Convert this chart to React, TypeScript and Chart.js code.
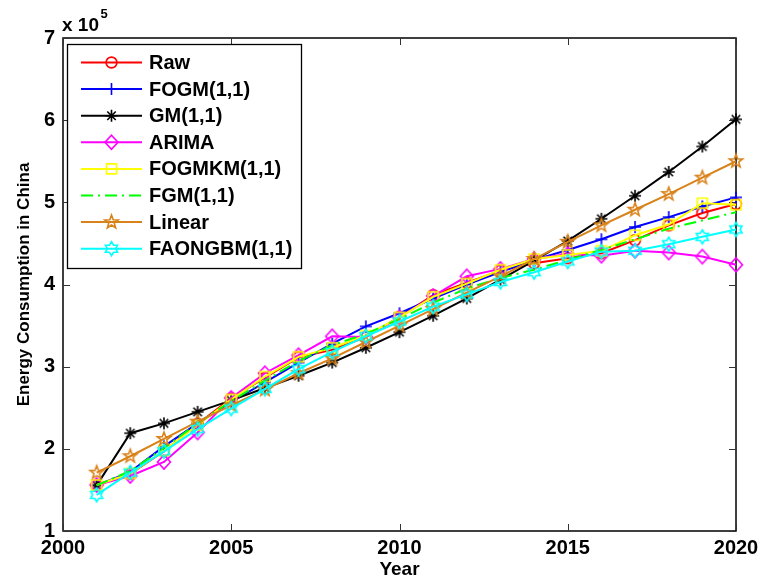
import React, { useEffect, useRef } from 'react';
import { Chart, registerables } from 'chart.js';

Chart.register(...registerables);

// ---- data (values in units of 10^5) ----
const years = [2001, 2002, 2003, 2004, 2005, 2006, 2007, 2008, 2009, 2010, 2011, 2012, 2013, 2014, 2015, 2016, 2017, 2018, 2019, 2020];
const rawValues = [1.555, 1.696, 1.971, 2.303, 2.614, 2.865, 3.114, 3.206, 3.361, 3.606, 3.870, 4.021, 4.169, 4.258, 4.32, 4.38, 4.54, 4.72, 4.87, 4.98];
const fogmValues = [1.555, 1.72, 2.03, 2.31, 2.57, 2.81, 3.05, 3.28, 3.49, 3.65, 3.83, 4.00, 4.15, 4.30, 4.42, 4.55, 4.70, 4.82, 4.95, 5.06];
const gmValues = [1.555, 2.19, 2.31, 2.45, 2.59, 2.74, 2.89, 3.05, 3.23, 3.42, 3.62, 3.83, 4.06, 4.29, 4.53, 4.80, 5.08, 5.37, 5.68, 6.01];
const arimaValues = [1.56, 1.67, 1.84, 2.20, 2.62, 2.92, 3.14, 3.37, 3.36, 3.60, 3.86, 4.10, 4.19, 4.31, 4.37, 4.35, 4.41, 4.39, 4.34, 4.24];
const fogmkmValues = [1.56, 1.70, 1.98, 2.29, 2.60, 2.88, 3.12, 3.23, 3.38, 3.60, 3.85, 4.01, 4.18, 4.31, 4.36, 4.41, 4.60, 4.73, 4.99, 4.97];
const fgmValues = [1.555, 1.73, 2.01, 2.31, 2.58, 2.83, 3.07, 3.26, 3.40, 3.58, 3.78, 3.95, 4.08, 4.18, 4.30, 4.42, 4.55, 4.68, 4.78, 4.88];
const linearValues = [1.71, 1.91, 2.12, 2.33, 2.53, 2.72, 2.92, 3.10, 3.30, 3.50, 3.70, 3.90, 4.10, 4.31, 4.52, 4.72, 4.91, 5.10, 5.30, 5.50];
const faongbmValues = [1.44, 1.71, 1.97, 2.24, 2.49, 2.73, 2.97, 3.18, 3.37, 3.55, 3.73, 3.88, 4.03, 4.15, 4.28, 4.40, 4.41, 4.49, 4.58, 4.67];

const seriesNames = ['Raw', 'FOGM(1,1)', 'GM(1,1)', 'ARIMA', 'FOGMKM(1,1)', 'FGM(1,1)', 'Linear', 'FAONGBM(1,1)'];
const seriesValues = [rawValues, fogmValues, gmValues, arimaValues, fogmkmValues, fgmValues, linearValues, faongbmValues];
const seriesColors = ['#FF0000', '#0000FF', '#000000', '#FF00FF', '#FFFF00', '#00FF00', '#D98219', '#00FFFF'];
const seriesMarkers = ['circle', 'plus', 'asterisk', 'diamond', 'square', 'none', 'pentagram', 'hexagram'];
const seriesDashes: number[][] = [[], [], [], [], [], [12, 5, 2, 5], [], []];

const xTicks = [2000, 2005, 2010, 2015, 2020];
const yTicks = [1, 2, 3, 4, 5, 6, 7];
const xTitle = 'Year';
const yTitle = 'Energy Consumption in China';

const FONT = '"Liberation Sans", Arial, Helvetica, sans-serif';

function drawShape(ctx: CanvasRenderingContext2D, shape: string, cx: number, cy: number, color: string) {
  ctx.save();
  ctx.strokeStyle = color;
  ctx.lineWidth = 1.6;
  ctx.lineJoin = 'miter';
  ctx.beginPath();
  if (shape === 'circle') {
    ctx.arc(cx, cy, 5.4, 0, Math.PI * 2);
  } else if (shape === 'plus') {
    ctx.moveTo(cx - 6, cy); ctx.lineTo(cx + 6, cy);
    ctx.moveTo(cx, cy - 6); ctx.lineTo(cx, cy + 6);
  } else if (shape === 'asterisk') {
    const r = 6;
    for (let k = 0; k < 4; k++) {
      const a = (k * Math.PI) / 4;
      ctx.moveTo(cx - r * Math.cos(a), cy - r * Math.sin(a));
      ctx.lineTo(cx + r * Math.cos(a), cy + r * Math.sin(a));
    }
  } else if (shape === 'diamond') {
    ctx.moveTo(cx, cy - 7); ctx.lineTo(cx + 6.5, cy); ctx.lineTo(cx, cy + 7); ctx.lineTo(cx - 6.5, cy); ctx.closePath();
  } else if (shape === 'square') {
    ctx.rect(cx - 5, cy - 5, 10, 10);
  } else if (shape === 'pentagram') {
    const ro = 7, ri = 2.9;
    for (let k = 0; k < 10; k++) {
      const r = k % 2 === 0 ? ro : ri;
      const a = -Math.PI / 2 + (k * Math.PI) / 5;
      const px = cx + r * Math.cos(a), py = cy + r * Math.sin(a);
      if (k === 0) ctx.moveTo(px, py); else ctx.lineTo(px, py);
    }
    ctx.closePath();
  } else if (shape === 'hexagram') {
    const ro = 7, ri = 4.1;
    for (let k = 0; k < 12; k++) {
      const r = k % 2 === 0 ? ro : ri;
      const a = -Math.PI / 2 + (k * Math.PI) / 6;
      const px = cx + r * Math.cos(a), py = cy + r * Math.sin(a);
      if (k === 0) ctx.moveTo(px, py); else ctx.lineTo(px, py);
    }
    ctx.closePath();
  }
  ctx.stroke();
  ctx.restore();
}

function makeMarker(shape: string, color: string): HTMLCanvasElement {
  const c = document.createElement('canvas');
  c.width = 20;
  c.height = 20;
  const ctx = c.getContext('2d')!;
  drawShape(ctx, shape, 10, 10, color);
  return c;
}

export default function App() {
  const canvasRef = useRef<HTMLCanvasElement | null>(null);

  useEffect(() => {
    const canvas = canvasRef.current;
    if (!canvas) return;

    const datasets = seriesNames.map((name, i) => {
      const hasMarker = seriesMarkers[i] !== 'none';
      return {
        label: name,
        data: years.map((yr, j) => ({ x: yr, y: seriesValues[i][j] })),
        borderColor: seriesColors[i],
        backgroundColor: seriesColors[i],
        borderWidth: 2,
        borderDash: seriesDashes[i],
        pointStyle: hasMarker ? makeMarker(seriesMarkers[i], seriesColors[i]) : false,
        pointRadius: hasMarker ? 5 : 0,
        pointHoverRadius: hasMarker ? 5 : 0,
        fill: false,
        tension: 0,
        clip: false as any,
        order: seriesNames.length - i,
      };
    });

    const framePlugin = {
      id: 'frame',
      beforeDatasetsDraw(chart: any) {
        const { ctx, chartArea } = chart;
        const { left, right, top, bottom } = chartArea;
        const xs = chart.scales.x;
        const ys = chart.scales.y;
        ctx.save();
        ctx.strokeStyle = '#000';
        ctx.lineWidth = 1.5;
        ctx.strokeRect(left, top, right - left, bottom - top);
        ctx.lineWidth = 1;
        ctx.strokeStyle = '#333';
        const tl = 7;
        ctx.beginPath();
        xTicks.forEach((t) => {
          const px = Math.round(xs.getPixelForValue(t)) + 0.5;
          ctx.moveTo(px, bottom); ctx.lineTo(px, bottom - tl);
          ctx.moveTo(px, top); ctx.lineTo(px, top + tl);
        });
        yTicks.forEach((t) => {
          const py = Math.round(ys.getPixelForValue(t)) + 0.5;
          ctx.moveTo(left, py); ctx.lineTo(left + tl, py);
          ctx.moveTo(right, py); ctx.lineTo(right - tl, py);
        });
        ctx.stroke();
        ctx.restore();
      },
    };

    const legendPlugin = {
      id: 'matlabLegend',
      afterDraw(chart: any) {
        const { ctx } = chart;
        ctx.save();
        const bx = 67.5, by = 44.5, bw = 234, bh = 224;
        ctx.fillStyle = '#fff';
        ctx.fillRect(bx, by, bw, bh);
        ctx.strokeStyle = '#000';
        ctx.lineWidth = 1.3;
        ctx.strokeRect(bx, by, bw, bh);
        ctx.font = `bold 20px ${FONT}`;
        ctx.textBaseline = 'middle';
        ctx.textAlign = 'left';
        seriesNames.forEach((name, i) => {
          const y = 62.5 + 26.6 * i;
          ctx.save();
          ctx.strokeStyle = seriesColors[i];
          ctx.lineWidth = 2;
          ctx.setLineDash(seriesDashes[i]);
          ctx.beginPath();
          ctx.moveTo(81, y);
          ctx.lineTo(142, y);
          ctx.stroke();
          ctx.restore();
          if (seriesMarkers[i] !== 'none') drawShape(ctx, seriesMarkers[i], 111.5, y, seriesColors[i]);
          ctx.fillStyle = '#000';
          ctx.fillText(name, 149, y + 1);
        });
        // exponent label
        ctx.textBaseline = 'alphabetic';
        ctx.font = `bold 19px ${FONT}`;
        ctx.fillText('x 10', 62, 31);
        ctx.font = `bold 13px ${FONT}`;
        ctx.fillText('5', 100.5, 18);
        ctx.restore();
      },
    };

    const chart = new Chart(canvas, {
      type: 'line',
      data: { datasets: datasets as any },
      options: {
        responsive: false,
        animation: false,
        devicePixelRatio: 1,
        events: [],
        layout: { padding: { left: 0, right: 24, top: 38, bottom: 0 } },
        plugins: {
          legend: { display: false },
          tooltip: { enabled: false },
        },
        scales: {
          x: {
            type: 'linear',
            min: 2000,
            max: 2020,
            afterBuildTicks: (scale: any) => {
              scale.ticks = xTicks.map((v) => ({ value: v }));
            },
            afterFit: (scale: any) => {
              scale.height = 50;
              scale.paddingLeft = 0;
              scale.paddingRight = 0;
            },
            grid: { display: false, drawTicks: false },
            border: { display: false },
            ticks: {
              color: '#000',
              font: { family: FONT, size: 20, weight: 'bold' },
              padding: 5,
              maxRotation: 0,
              autoSkip: false,
              callback: (v: any) => String(v),
            },
            title: {
              display: true,
              text: xTitle,
              color: '#000',
              font: { family: FONT, size: 19, weight: 'bold' },
              padding: { top: 0, bottom: 0 },
            },
          },
          y: {
            type: 'linear',
            min: 1,
            max: 7,
            afterBuildTicks: (scale: any) => {
              scale.ticks = yTicks.map((v) => ({ value: v }));
            },
            afterFit: (scale: any) => {
              scale.width = 63;
              scale.paddingTop = 0;
              scale.paddingBottom = 0;
            },
            grid: { display: false, drawTicks: false },
            border: { display: false },
            ticks: {
              color: '#000',
              font: { family: FONT, size: 20, weight: 'bold' },
              padding: 8,
              autoSkip: false,
              callback: (v: any) => String(v),
            },
            title: {
              display: true,
              text: yTitle,
              color: '#000',
              font: { family: FONT, size: 17, weight: 'bold' },
              padding: { top: 14, bottom: 0 },
            },
          },
        },
      },
      plugins: [framePlugin, legendPlugin],
    });

    return () => {
      chart.destroy();
    };
  }, []);

  return (
    <div style={{ position: 'absolute', left: 0, top: 0, width: 760, height: 581, background: '#fff' }}>
      <canvas ref={canvasRef} width={760} height={581} style={{ display: 'block', width: 760, height: 581 }} />
    </div>
  );
}
